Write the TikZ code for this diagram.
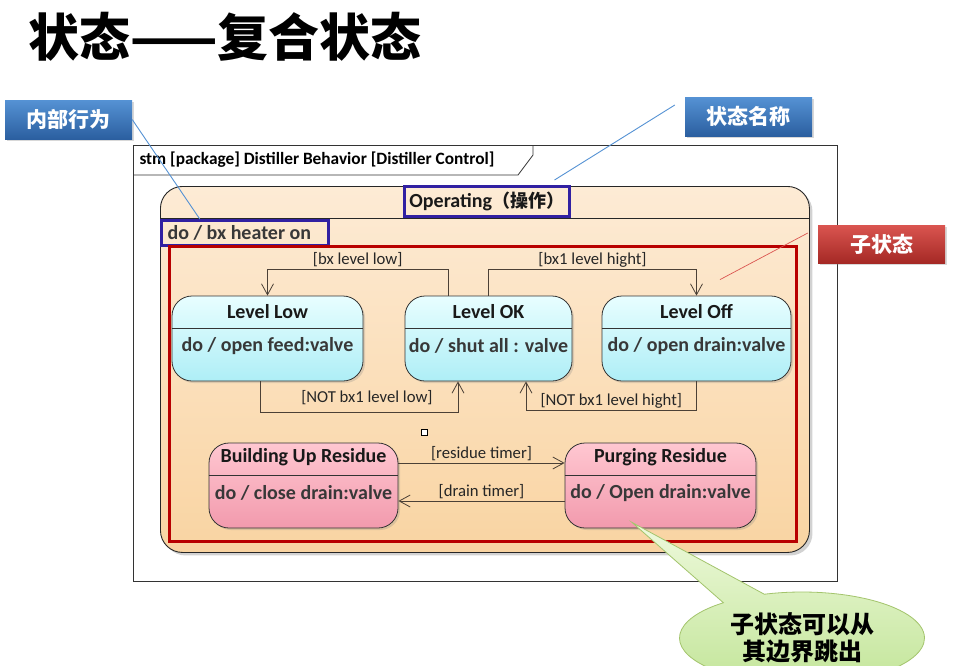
\documentclass[tikz,border=0pt]{standalone}
\usepackage{fontspec}
\setmainfont{Carlito}
\newfontfamily\cjk{Noto Sans CJK SC}
\usetikzlibrary{arrows.meta,calc,shadows,shapes.callouts}

\definecolor{opTop}{HTML}{FDEBD5}
\definecolor{opBot}{HTML}{F9D4A2}
\definecolor{cyTop}{HTML}{E8FEFF}
\definecolor{cyBot}{HTML}{AEEEF6}
\definecolor{pkTop}{HTML}{FFC7D1}
\definecolor{pkBot}{HTML}{F29AAD}
\definecolor{hiBlue}{HTML}{3120A2}
\definecolor{subRed}{HTML}{B80000}
\definecolor{trCol}{HTML}{4B4036}
\definecolor{tagBlueTop}{HTML}{5592D4}
\definecolor{tagBlueBot}{HTML}{2B5FA0}
\definecolor{tagRedTop}{HTML}{DA5550}
\definecolor{tagRedBot}{HTML}{A52925}
\definecolor{noteTop}{HTML}{EEF9DC}
\definecolor{noteBot}{HTML}{C2E598}
\definecolor{noteLine}{HTML}{A3C46C}
\newcommand{\setpx}[1]{\fontsize{#1}{#1}\selectfont}

\begin{document}
\begin{tikzpicture}[x=1pt,y=-1pt,>={Straight Barb[length=11pt,width=12pt]},
    stbox/.style={rounded corners=20,draw=black!80,line width=0.8pt,minimum height=85,inner sep=0,
      drop shadow={opacity=0.25,shadow xshift=2pt,shadow yshift=-2pt}},
    level/.style={stbox,top color=cyTop,bottom color=cyBot},
    residue/.style={stbox,top color=pkTop,bottom color=pkBot},
    stname/.style={font=\bfseries\setpx{20},text=black!90},
    stdo/.style={font=\bfseries\setpx{20},text=black!78},
    guard/.style={font=\setpx{16.7},text=black!85,inner sep=2pt},
    tr/.style={->,draw=trCol,line width=0.8pt},
    tag/.style={minimum width=127,minimum height=39,inner sep=0,font=\cjk\bfseries\setpx{21},text=white,
      drop shadow={opacity=0.3,shadow xshift=2pt,shadow yshift=-2pt}},
    hilite/.style={draw=hiBlue,line width=2.5pt,inner sep=0},
    ptrBlue/.style={draw=tagBlueTop,line width=0.9pt},
    ptrRed/.style={draw=tagRedTop,line width=0.7pt}]
  \fill[white] (0,0) rectangle (954,665);
  \useasboundingbox (0,0) rectangle (954,665);

  \node[font=\cjk\bfseries\setpx{51}] (title) at (225,37) {状态——复合状态};

  \node[draw=black!80,line width=0.8pt,fill=white,minimum width=704,minimum height=436,inner sep=0,anchor=north west] (frm) at (133,145) {};
  \draw[black!80,line width=0.8pt] ($(frm.north west)+(0,30)$) -- ++(385,0) -- ++(15,-20) -- ++(0,-10);
  \node[anchor=west,font=\bfseries\setpx{17.3}] (frmT) at ($(frm.north west)+(3,15)$) {stm [package] Distiller Behavior [Distiller Control]};

  \node[rounded corners=22,draw=black!85,line width=0.9pt,top color=opTop,bottom color=opBot,minimum width=649,minimum height=366,inner sep=0,anchor=north west,
    drop shadow={opacity=0.35,shadow xshift=3pt,shadow yshift=-3pt}] (op) at (160,186) {};
  \draw[black!85,line width=0.8pt] ($(op.north west)+(0,32)$) -- ($(op.north east)+(0,32)$);
  \node[hilite,minimum width=165,minimum height=30,anchor=north west] (nameBox) at (403,185) {};
  \node[stname] (opT) at (nameBox.center) {Operating{\cjk\bfseries\setpx{18}（操作）}};
  \node[hilite,minimum width=167,minimum height=25,anchor=north west] (doBox) at (160,219) {};
  \node[stdo,anchor=west] (opD) at ($(doBox.west)+(4,0)$) {do / bx heater on};
  \node[draw=subRed,line width=2.5pt,minimum width=627,minimum height=295,inner sep=0,anchor=north west] (sub) at (168,245) {};

  \node[level,minimum width=191] (low) at (267.5,338.5) {};
  \node[level,minimum width=167] (ok) at (488.5,338.5) {};
  \node[level,minimum width=189] (off) at (696.5,338.5) {};
  \node[residue,minimum width=189] (bur) at (303.5,485.5) {};
  \node[residue,minimum width=191] (pr) at (660.5,485.5) {};
  \foreach \s in {low,ok,off,bur,pr}
    \draw[black!80,line width=0.8pt] ($(\s.north west)+(0,33)$) -- ($(\s.north east)+(0,33)$);

  \node[stname] (lowT) at ($(low.north)+(0,16)$) {Level Low};
  \node[stdo] (lowD) at ($(low.north)+(0,50)$) {do / open feed:valve};
  \node[stname] (okT) at ($(ok.north)+(0,16)$) {Level OK};
  \node[stdo] (okD) at ($(ok.north)+(0,50)$) {do / shut all : valve};
  \node[stname] (offT) at ($(off.north)+(0,16)$) {Level Off};
  \node[stdo] (offD) at ($(off.north)+(0,50)$) {do / open drain:valve};
  \node[stname] (burT) at ($(bur.north)+(0,15)$) {Building Up Residue};
  \node[stdo] (burD) at ($(bur.north)+(0,50)$) {do / close drain:valve};
  \node[stname] (prT) at ($(pr.north)+(0,15)$) {Purging Residue};
  \node[stdo] (prD) at ($(pr.north)+(0,50)$) {do / Open drain:valve};

  \draw[tr] ([xshift=-40.5]ok.north) -- ++(0,-26) -| node[guard,pos=0.25,above] {[bx level low]} (low.north);
  \draw[tr] (ok.north) -- ++(0,-26) -| node[guard,pos=0.25,above] {[bx1 level hight]} (off.north);
  \draw[tr] ([xshift=-7.5]low.south) -- ++(0,31) -| node[guard,pos=0.27,above=5pt] {[NOT bx1 level low]} ([xshift=-30.5]ok.south);
  \draw[tr] (off.south) -- ++(0,29) -| node[guard,pos=0.25,above] {[NOT bx1 level hight]} ([xshift=37.5]ok.south);
  \draw[tr] ([yshift=22.5]bur.east) -- node[guard,above] {[residue timer]} ([yshift=22.5]pr.west);
  \draw[tr] ([yshift=-15.5]pr.west) -- node[guard,above] {[drain timer]} ([yshift=-15.5]bur.east);
  \node[draw=black,fill=white,line width=0.6pt,minimum size=6,inner sep=0] (sq) at (424,432) {};

  \node[tag,top color=tagBlueTop,bottom color=tagBlueBot] (tagInner) at (68.5,119.5) {内部行为};
  \node[tag,top color=tagBlueTop,bottom color=tagBlueBot] (tagName) at (748.5,116.5) {状态名称};
  \node[tag,top color=tagRedTop,bottom color=tagRedBot,minimum height=38] (tagSub) at (881.5,244) {子状态};
  \draw[ptrBlue] (tagInner.east) -- ([xshift=-45]doBox.north);
  \draw[ptrBlue] ([xshift=-10,yshift=11.5]tagName.west) -- ([xshift=-16,yshift=5]nameBox.north east);
  \draw[ptrRed] ([xshift=-10,yshift=11]tagSub.west) -- ([xshift=23.5,yshift=16]off.north);

  \node[ellipse callout,callout absolute pointer={([xshift=-28.5,yshift=6]pr.south)},callout pointer arc=22,
    top color=noteTop,bottom color=noteBot,draw=noteLine,line width=0.8pt,minimum width=245,minimum height=92,inner sep=0,
    align=center,font=\cjk\bfseries\fontsize{24}{27}\selectfont] (note) at (802,638) {子状态可以从\\其边界跳出};
\end{tikzpicture}
\end{document}
